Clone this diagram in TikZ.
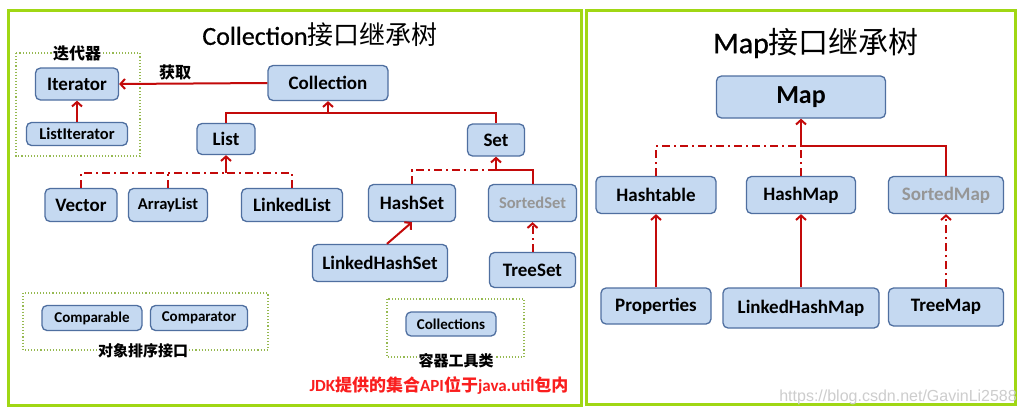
\documentclass[tikz,border=0pt]{standalone}
\usepackage{fontspec}
\setmainfont{Carlito}
\newfontfamily\cjk{Noto Sans CJK SC}
\newfontfamily\titlefont{Carlito}[FakeBold=0.6]
\newfontfamily\wmfont{Liberation Sans}
\usetikzlibrary{arrows.meta}
\definecolor{frame}{RGB}{160,215,20}
\definecolor{dotc}{RGB}{150,185,80}
\definecolor{nodefill}{RGB}{197,217,241}
\definecolor{nodedraw}{RGB}{79,111,160}
\definecolor{linkred}{RGB}{195,10,10}
\definecolor{greytext}{RGB}{150,150,150}
\definecolor{wmgrey}{RGB}{205,205,205}
\definecolor{jdkred}{RGB}{250,30,30}
\tikzset{
 fs/.style={font=\fontsize{#1}{#1}\selectfont\bfseries},
 cls/.style={draw=nodedraw, fill=nodefill, line width=1.3pt, rounded corners=5pt, inner sep=0pt, align=center},
 sz/.style 2 args={minimum width=#1pt, minimum height=#2pt},
 link/.style={draw=linkred, line width=2pt},
 impl/.style={link, dash pattern=on 8pt off 4pt on 2pt off 4pt},
 tip/.style={-{Straight Barb[length=4.5pt,width=10pt]}},
 panel/.style={draw=frame, line width=3pt},
 group/.style={draw=dotc, line width=1.1pt, dotted},
 cnlabel/.style={font=\cjk\bfseries\fontsize{#1}{#1}\selectfont, fill=white, inner sep=1pt},
}
\begin{document}
\begin{tikzpicture}[x=1pt,y=-1pt]
\fill[white] (0,0) rectangle (1028,415);
\useasboundingbox (0,0) rectangle (1028,415);
% panels
\draw[panel] (8,10) rectangle (581,405);
\draw[panel] (586,10) rectangle (1015,404);
% titles
\node (titleC) at (320,35) {\fontsize{26}{26}\selectfont{\titlefont Collection}{\cjk 接口继承树}};
\node (titleM) at (816,43) {\fontsize{30}{30}\selectfont{\titlefont Map}{\cjk 接口继承树}};
% group boxes
\draw[group] (16,53) rectangle (140,156);
\draw[group] (23,293) rectangle (268,350);
\draw[group] (387,299) rectangle (524,357);
\node[cnlabel=16] (lblIter) at (77,53) {迭代器};
\node[cnlabel=15] (lblSort) at (143,351) {对象排序接口};
\node[cnlabel=15] (lblTool) at (456,361) {容器工具类};
\node[font=\cjk\bfseries\fontsize{16}{16}\selectfont] (lblGet) at (175,72) {获取};
% collection nodes
\node[cls, sz={83}{32}, fs=19] (Iterator) at (77,84) {Iterator};
\node[cls, sz={101}{23}, fs=16.5] (ListIterator) at (77,134) {ListIterator};
\node[cls, sz={120}{35}, fs=19] (Collection) at (328,83) {Collection};
\node[cls, sz={58}{31}, fs=19] (List) at (226,139) {List};
\node[cls, sz={57}{32}, fs=19] (Set) at (496,140) {Set};
\node[cls, sz={72}{33}, fs=19] (Vector) at (81,205) {Vector};
\node[cls, sz={79}{33}, fs=16.5] (ArrayList) at (168,205) {ArrayList};
\node[cls, sz={101}{33}, fs=19] (LinkedList) at (292,205) {LinkedList};
\node[cls, sz={87}{37}, fs=19] (HashSet) at (412,203) {HashSet};
\node[cls, sz={88}{37}, fs=16.5, text=greytext] (SortedSet) at (532.5,203) {SortedSet};
\node[cls, sz={135}{37}, fs=19] (LinkedHashSet) at (380,263) {LinkedHashSet};
\node[cls, sz={86}{35}, fs=19] (TreeSet) at (532.5,270) {TreeSet};
\node[cls, sz={100}{25}, fs=15] (Comparable) at (92,318) {Comparable};
\node[cls, sz={97}{25}, fs=15] (Comparator) at (199,318) {Comparator};
\node[cls, sz={90}{24}, fs=15] (Collections) at (451,324) {Collections};
% map nodes
\node[cls, sz={169}{42}, fs=26] (Map) at (801,97) {Map};
\node[cls, sz={120}{37}, fs=19] (Hashtable) at (656,195) {Hashtable};
\node[cls, sz={109}{37}, fs=19] (HashMap) at (801,195) {HashMap};
\node[cls, sz={115}{37}, fs=19, text=greytext] (SortedMap) at (946,195) {SortedMap};
\node[cls, sz={110}{36}, fs=19] (Properties) at (656,306) {Properties};
\node[cls, sz={156}{40}, fs=19] (LinkedHashMap) at (801,308) {LinkedHashMap};
\node[cls, sz={115}{38}, fs=19] (TreeMap) at (946,307) {TreeMap};
% texts
\node[text=jdkred, font=\bfseries\fontsize{17}{17}\selectfont] (jdk) at (439,386) {JDK{\cjk 提供的集合}API{\cjk 位于}java.util{\cjk 包内}};
\node[text=wmgrey, font=\wmfont\fontsize{16}{16}\selectfont, anchor=east, inner sep=0pt] (wm) at (1017,397) {https://blog.csdn.net/GavinLi2588};
% collection connectors
\coordinate (jC) at (328,113);
\draw[link] (List.north) |- (jC);
\draw[link] (Set.north) |- (jC);
\draw[link,tip] (jC) -- (Collection.south);
\coordinate (jL) at (226,173);
\draw[impl] (Vector.north) |- (jL);
\draw[impl] (LinkedList.north) |- (jL);
\draw[impl] (ArrayList.north) -- (ArrayList.north |- jL);
\draw[link,tip] (jL) -- (List.south);
\coordinate (jS) at (496,170);
\draw[impl] (HashSet.north) |- (jS);
\draw[link] (SortedSet.north) |- (jS);
\draw[link,tip] (jS) -- (Set.south);
\draw[link,tip] (ListIterator.north) -- (Iterator.south);
\draw[link,tip] (Collection.west) -- (Iterator.east);
\draw[link,tip] ([xshift=7pt]LinkedHashSet.north) -- (HashSet.south);
\draw[impl,tip] (TreeSet.north) -- (SortedSet.south);
% map connectors
\coordinate (jM) at (801,146);
\draw[impl] (Hashtable.north) |- (jM);
\draw[impl] (HashMap.north) -- (jM);
\draw[link] (SortedMap.north) |- (jM);
\draw[link,tip] (jM) -- (Map.south);
\draw[link,tip] (Properties.north) -- (Hashtable.south);
\draw[link,tip] (LinkedHashMap.north) -- (HashMap.south);
\draw[impl,tip] (TreeMap.north) -- (SortedMap.south);
\end{tikzpicture}
\end{document}
